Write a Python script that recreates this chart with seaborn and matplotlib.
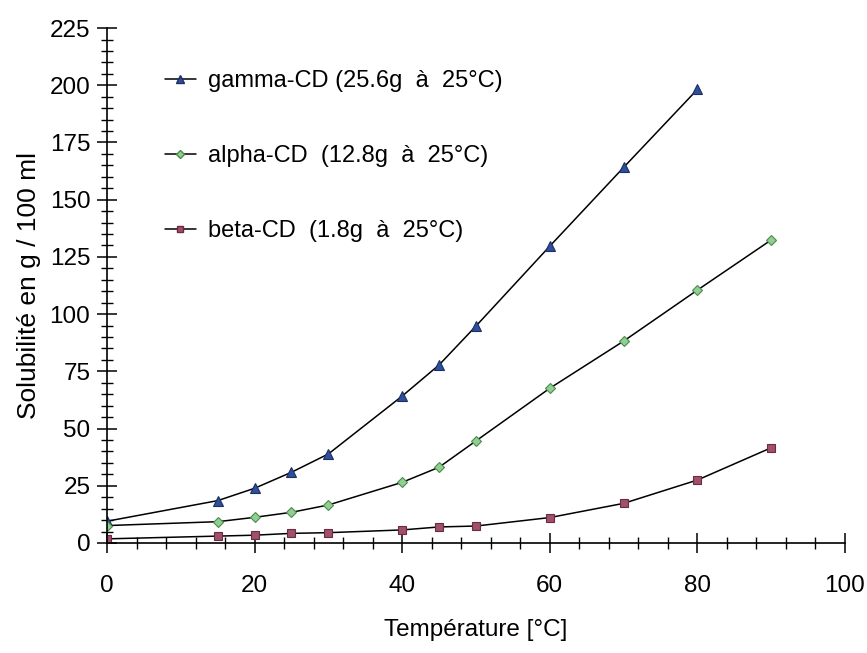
import matplotlib
matplotlib.use("Agg")
import matplotlib.pyplot as plt
import seaborn as sns
import pandas as pd
from matplotlib.lines import Line2D
from matplotlib.ticker import MultipleLocator

sns.set_style("white")
plt.rcParams['font.family'] = ['Liberation Sans', 'DejaVu Sans']
plt.rcParams['text.color'] = 'black'
plt.rcParams['axes.labelcolor'] = 'black'
plt.rcParams['xtick.color'] = 'black'
plt.rcParams['ytick.color'] = 'black'

gamma_t = [0, 15, 20, 25, 30, 40, 45, 50, 60, 70, 80]
gamma_s = [9.5, 18.5, 23.9, 30.9, 38.9, 64.2, 77.8, 94.8, 129.7, 164.1, 198.2]
alpha_t = [0, 15, 20, 25, 30, 40, 45, 50, 60, 70, 80, 90]
alpha_s = [7.6, 9.3, 11.2, 13.4, 16.6, 26.5, 33.1, 44.6, 67.6, 88.2, 110.5, 132.4]
beta_t = [0, 15, 20, 25, 30, 40, 45, 50, 60, 70, 80, 90]
beta_s = [1.8, 3.0, 3.4, 4.2, 4.5, 5.7, 7.0, 7.4, 11.1, 17.3, 27.5, 41.6]

labels = ["gamma-CD (25.6g  à  25°C)", "alpha-CD  (12.8g  à  25°C)", "beta-CD  (1.8g  à  25°C)"]
colors = ["#2f4f9c", "#8fcf8f", "#a0506a"]
edges = ["#1c2f66", "#4f8a4f", "#6a2c3c"]
markers = ["^", "D", "s"]
sizes = [7, 5.5, 6]

series = [(gamma_t, gamma_s), (alpha_t, alpha_s), (beta_t, beta_s)]

fig = plt.figure(figsize=(8.67, 6.53), dpi=100)
ax = fig.add_axes([0.1234, 0.1685, 0.8512, 0.7885])

for (t, s), lab, c, ec, m, ms in zip(series, labels, colors, edges, markers, sizes):
    df = pd.DataFrame({"T": t, "S": s})
    sns.lineplot(data=df, x="T", y="S", ax=ax, color="black", linewidth=1.1,
                 marker=m, markersize=ms, markerfacecolor=c, markeredgecolor=ec,
                 markeredgewidth=0.8, legend=False)

ax.set_xlim(0, 100)
ax.set_ylim(0, 225)
ax.xaxis.set_major_locator(MultipleLocator(20))
ax.xaxis.set_minor_locator(MultipleLocator(4))
ax.yaxis.set_major_locator(MultipleLocator(25))
ax.yaxis.set_minor_locator(MultipleLocator(5))
ax.tick_params(which="major", direction="inout", length=14, width=1.1, color="black",
               labelcolor="black", labelsize=17.5, pad=5, bottom=True, left=True)
ax.tick_params(which="minor", direction="inout", length=9, width=1.0, color="black",
               bottom=True, left=True)
ax.tick_params(axis="x", pad=16)
for sp in ["top", "right"]:
    ax.spines[sp].set_visible(False)
for sp in ["left", "bottom"]:
    ax.spines[sp].set_color("black")
    ax.spines[sp].set_linewidth(1.2)

ax.set_xlabel("Température [°C]", fontsize=17.5, labelpad=16)
ax.set_ylabel("Solubilité en g / 100 ml", fontsize=19, labelpad=6)

handles = [Line2D([0], [0], color="black", linewidth=1.1, marker=m, markersize=ms - 1,
                  markerfacecolor=c, markeredgecolor=ec)
           for c, ec, m, ms in zip(colors, edges, markers, sizes)]
ax.legend(handles, labels, loc="upper left", bbox_to_anchor=(0.05, 0.96), frameon=False,
          fontsize=17, handlelength=1.3, handletextpad=0.5, labelspacing=2.25)

fig.savefig("out.png", dpi=100)
